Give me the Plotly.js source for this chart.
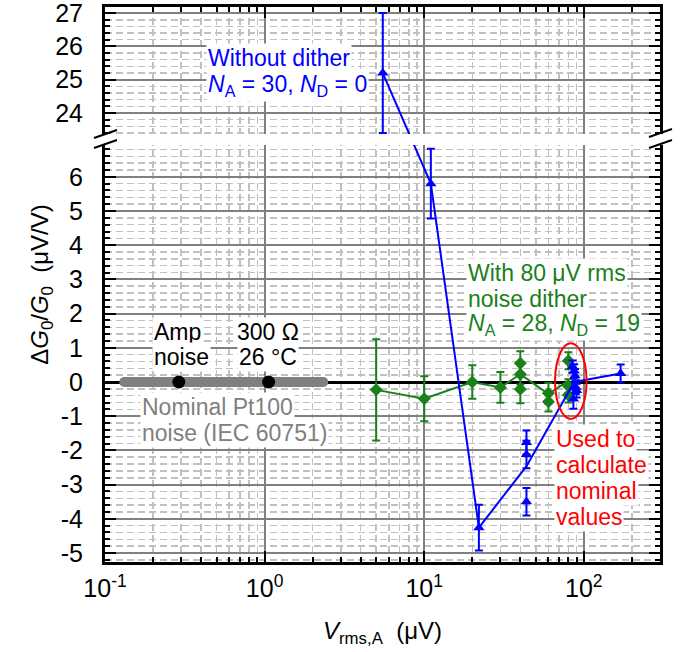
<!DOCTYPE html>
<html><head><meta charset="utf-8">
<script src="https://cdn.plot.ly/plotly-3.0.1.min.js"></script>
<style>html,body{margin:0;padding:0;background:#fff;}#chart{width:681px;height:652px;}</style>
</head><body><div id="chart"></div>
<script>
// ---------------- data ----------------
// green: with 80 uV rms noise dither (line = mean values)
const greenLineX = [5, 10, 20, 30, 40, 60, 80];
const greenLineY = [-0.23, -0.49, 0.0, -0.16, 0.23, -0.35, 0.04];
// green individual measurements
const greenPtX = [5, 10, 20, 30, 40, 40, 40, 60, 60, 80, 80, 80];
const greenPtY = [-0.23, -0.49, 0.0, -0.16, 0.55, 0.23, -0.21, -0.33, -0.58, 0.62, -0.12, -0.38];
const greenPtErr = [1.48, 0.66, 0.49, 0.45, 0.35, 0.3, 0.41, 0.3, 0.28, 0.25, 0.2, 0.22];

// blue: without dither (line = mean values)
const blueLineX = [5.5, 11, 22, 43.7, 87, 170];
const blueLineY = [25.2, 5.8, -4.26, -2.46, 0.0, 0.25];
// blue individual measurements
const bluePtX = [5.5, 11, 22, 43.7, 43.7, 43.7, 85, 87, 88, 89, 90, 86, 170];
const bluePtY = [25.2, 5.8, -4.26, -1.77, -2.12, -3.5, 0.45, 0.32, 0.18, -0.15, -0.25, -0.5, 0.25];
const bluePtErr = [1.8, 1.02, 0.67, 0.35, 0.4, 0.4, 0.18, 0.2, 0.2, 0.2, 0.2, 0.28, 0.26];

// nominal Pt100 noise band and the two reference dots
const nominalX = [0.132, 2.33];
const nominalY = [0, 0];
const refDotX = [0.29, 1.06];
const refDotY = [0, 0];

// ticks
const xTickVals = [0.1, 1, 10, 100];
const xTickText = ['10<sup>-1</sup>', '10<sup>0</sup>', '10<sup>1</sup>', '10<sup>2</sup>'];
const yTicksLow = [-5, -4, -3, -2, -1, 0, 1, 2, 3, 4, 5, 6];
const yTicksHigh = [24, 25, 26, 27];

// ---------------- broken-axis mapping ----------------
const UP_BASE_VAL = 24, UP_BASE_POS = 7.865, UP_SCALE = 0.974;
function brk(v) { return v < 15 ? v : UP_BASE_POS + (v - UP_BASE_VAL) * UP_SCALE; }
const Y_RANGE = [-5.263, 10.965];

const xMinor = [];
[0.1, 1, 10, 100].forEach(d => { for (let k = 2; k <= 9; k++) { const v = d * k; if (v <= 300) xMinor.push(v); } });
const yMinor = [];
for (let k = -26; k <= 34; k++) if (k % 5 !== 0) yMinor.push(k / 5);
for (let k = 117; k <= 134; k++) if (k % 5 !== 0) yMinor.push(brk(k / 5));

const yTickVals = yTicksLow.concat(yTicksHigh).map(brk);
const yTickText = yTicksLow.concat(yTicksHigh).map(v => String(v));

// ---------------- traces ----------------
const BLUE = '#0000ff', GREEN = '#1a801a', GRAY = '#808080', RED = '#ff0000';
const traces = [
  { x: nominalX, y: nominalY, mode: 'lines+markers', line: { color: GRAY, width: 10 },
    marker: { color: GRAY, size: 10, symbol: 'circle' }, hoverinfo: 'skip' },
  { x: refDotX, y: refDotY, mode: 'markers', marker: { color: '#000', size: 13, symbol: 'circle' } },
  { x: greenLineX, y: greenLineY, mode: 'lines', line: { color: GREEN, width: 2 } },
  { x: greenPtX, y: greenPtY, mode: 'markers', marker: { color: GREEN, size: 10, symbol: 'diamond' },
    error_y: { type: 'data', array: greenPtErr, color: GREEN, thickness: 2, width: 4 } },
  { x: blueLineX, y: blueLineY.map(brk), mode: 'lines', line: { color: BLUE, width: 2 } },
  { x: bluePtX, y: bluePtY.map(brk), mode: 'markers', marker: { color: BLUE, size: 10, symbol: 'triangle-up' },
    error_y: { type: 'data',
      array: bluePtY.map((v, i) => brk(v + bluePtErr[i]) - brk(v)),
      arrayminus: bluePtY.map((v, i) => brk(v) - brk(v - bluePtErr[i])),
      color: BLUE, thickness: 2, width: 4 } }
];

// ---------------- layout helpers ----------------
const L = 105, R = 660, T = 7, B = 562;
const px = x => (x - L) / (R - L);
const py = y => (B - y) / (B - T);
const FONT = 'Liberation Sans, Arial, Helvetica, sans-serif';
const annotations = [];
function textLines(lines, x, y0, dy, color, align) {
  lines.forEach((t, i) => annotations.push({
    xref: 'paper', yref: 'paper', x: px(x), y: py(y0 + i * dy), text: t, showarrow: false,
    xanchor: align, yanchor: 'middle', align: align,
    font: { family: FONT, size: 23, color: color }, bgcolor: '#ffffff', borderpad: 1
  }));
}
textLines(['Without dither', '<i>N</i><sub>A</sub> = 30, <i>N</i><sub>D</sub> = 0'], 206, 58, 27, BLUE, 'left');
textLines(['With 80 μV rms', 'noise dither', '<i>N</i><sub>A</sub> = 28, <i>N</i><sub>D</sub> = 19'], 466, 273, 26, GREEN, 'left');
textLines(['Amp', 'noise'], 152, 332, 25, '#000', 'left');
textLines(['300 Ω', '26 °C'], 268, 332, 25, '#000', 'center');
textLines(['Nominal Pt100', 'noise (IEC 60751)'], 140, 407, 26, GRAY, 'left');
textLines(['Used to', 'calculate', 'nominal', 'values'], 554, 439, 26, RED, 'left');

const shapes = [
  // red ellipse around the values used for nominal values
  { type: 'circle', xref: 'x', yref: 'y', x0: 66, x1: 104, y0: -1.08, y1: 1.13,
    line: { color: RED, width: 2 }, layer: 'above' },
  // axis break gap
  { type: 'rect', xref: 'paper', yref: 'paper', x0: px(96), x1: px(669), y0: py(145), y1: py(134),
    fillcolor: '#ffffff', line: { width: 0 }, layer: 'above' },
  // break marks
  { type: 'line', xref: 'paper', yref: 'paper', x0: px(94), y0: py(148), x1: px(117), y1: py(140), line: { color: '#000', width: 2 }, layer: 'above' },
  { type: 'line', xref: 'paper', yref: 'paper', x0: px(94), y0: py(138), x1: px(117), y1: py(130), line: { color: '#000', width: 2 }, layer: 'above' },
  { type: 'line', xref: 'paper', yref: 'paper', x0: px(649), y0: py(148), x1: px(672), y1: py(140), line: { color: '#000', width: 2 }, layer: 'above' },
  { type: 'line', xref: 'paper', yref: 'paper', x0: px(649), y0: py(137), x1: px(672), y1: py(129), line: { color: '#000', width: 2 }, layer: 'above' }
];

const minorCommon = { ticks: 'inside', ticklen: 5, tickwidth: 2, tickcolor: '#000',
  showgrid: true, gridcolor: '#c0c0c0', gridwidth: 1.5, griddash: '7px,4px' };

const layout = {
  width: 681, height: 652,
  margin: { l: L, r: 681 - R, t: T, b: 652 - B },
  paper_bgcolor: '#ffffff', plot_bgcolor: '#ffffff',
  showlegend: false,
  font: { family: FONT, size: 25, color: '#000' },
  xaxis: {
    type: 'log', range: [-1, Math.log10(300)],
    tickmode: 'array', tickvals: xTickVals, ticktext: xTickText,
    ticks: 'inside', ticklen: 11, tickwidth: 2, tickcolor: '#000',
    showline: true, linewidth: 3, linecolor: '#000', mirror: 'ticks',
    showgrid: true, gridcolor: '#808080', gridwidth: 2, zeroline: false,
    ticklabelstandoff: 2, ticklabeloverflow: 'allow',
    tickfont: { family: FONT, size: 25 },
    minor: Object.assign({ tickmode: 'array', tickvals: xMinor }, minorCommon),
    title: { text: '<i>V</i><sub>rms,A</sub>\u00a0\u00a0(μV)', font: { family: FONT, size: 24 }, standoff: 22 }
  },
  yaxis: {
    range: Y_RANGE,
    tickmode: 'array', tickvals: yTickVals, ticktext: yTickText,
    ticks: 'inside', ticklen: 11, tickwidth: 2, tickcolor: '#000',
    showline: true, linewidth: 3, linecolor: '#000', mirror: 'ticks',
    showgrid: true, gridcolor: '#808080', gridwidth: 2,
    zeroline: true, zerolinecolor: '#000', zerolinewidth: 3,
    ticklabelstandoff: 14, ticklabeloverflow: 'allow',
    tickfont: { family: FONT, size: 25 },
    minor: Object.assign({ tickmode: 'array', tickvals: yMinor }, minorCommon),
    title: { text: 'Δ<i>G</i><sub>0</sub>/<i>G</i><sub>0</sub>\u00a0\u00a0(μV/V)', font: { family: FONT, size: 24 }, standoff: 0 }
  },
  annotations: annotations,
  shapes: shapes
};

Plotly.newPlot('chart', traces, layout, { displayModeBar: false, staticPlot: true });
</script>
</body></html>
